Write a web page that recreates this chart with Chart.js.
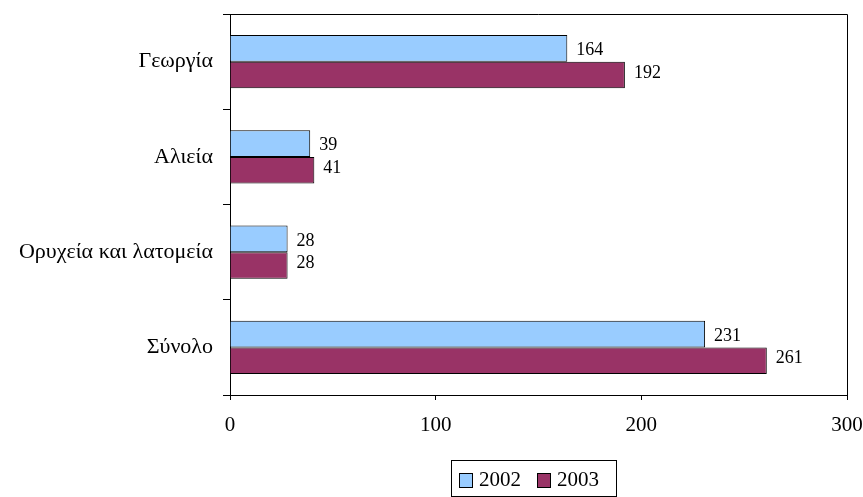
<!DOCTYPE html>
<html>
<head>
<meta charset="utf-8">
<script src="https://cdn.jsdelivr.net/npm/chart.js@4.4.0/dist/chart.umd.min.js"></script>
<style>
  html, body { margin: 0; padding: 0; background: #fff; }
  #wrap { width: 863px; height: 497px; }
</style>
</head>
<body>
<div id="wrap"><canvas id="c" width="863" height="497"></canvas></div>
<script>
// data
const categories = ['Γεωργία', 'Αλιεία', 'Ορυχεία και λατομεία', 'Σύνολο'];
const values2002 = [164, 39, 28, 231];
const values2003 = [192, 41, 28, 261];
const seriesNames = ['2002', '2003'];
const xTicks = [0, 100, 200, 300];

const FONT = '"Liberation Serif", "Times New Roman", serif';

// value labels at bar ends
const valueLabels = {
  id: 'valueLabels',
  afterDatasetsDraw(chart) {
    const ctx = chart.ctx;
    ctx.save();
    ctx.font = '18px ' + FONT;
    ctx.fillStyle = '#000';
    ctx.textBaseline = 'middle';
    ctx.textAlign = 'left';
    chart.data.datasets.forEach((ds, i) => {
      chart.getDatasetMeta(i).data.forEach((bar, j) => {
        const dy = i === 0 ? 2 : -2;
        ctx.fillText(String(ds.data[j]), bar.x + 9, bar.y + dy);
      });
    });
    ctx.restore();
  }
};

// frame round plot area + boxed legend
const frameAndLegend = {
  id: 'frameAndLegend',
  afterDraw(chart) {
    const ctx = chart.ctx;
    const a = chart.chartArea;
    ctx.save();
    ctx.strokeStyle = '#000';
    ctx.lineWidth = 1;
    ctx.beginPath();
    ctx.moveTo(a.left, a.top + 0.5);
    ctx.lineTo(a.right + 0.5, a.top + 0.5);
    ctx.lineTo(a.right + 0.5, a.bottom);
    ctx.stroke();

    // legend
    const bx = 451, by = 460, bw = 165, bh = 36;
    ctx.strokeRect(bx + 0.5, by + 0.5, bw, bh);
    ctx.font = '21px ' + FONT;
    ctx.textBaseline = 'middle';
    let x = bx + 8;
    const cy = by + 20;
    chart.data.datasets.forEach((ds) => {
      ctx.fillStyle = ds.backgroundColor;
      ctx.fillRect(x, cy - 7, 13, 14);
      ctx.strokeRect(x + 0.5, cy - 7 + 0.5, 13, 14);
      ctx.fillStyle = '#000';
      ctx.fillText(ds.label, x + 20, cy);
      x += 78;
    });
    ctx.restore();
  }
};

new Chart(document.getElementById('c'), {
  type: 'bar',
  data: {
    labels: categories,
    datasets: [
      { label: seriesNames[0], data: values2002, backgroundColor: '#99CCFF',
        borderColor: '#000', borderWidth: 1 },
      { label: seriesNames[1], data: values2003, backgroundColor: '#993366',
        borderColor: '#000', borderWidth: 1 }
    ]
  },
  options: {
    indexAxis: 'y',
    responsive: false,
    animation: false,
    devicePixelRatio: 1,
    categoryPercentage: 0.56,
    barPercentage: 1.0,
    layout: { padding: { top: 14, right: 16, bottom: 0, left: 0 } },
    plugins: {
      legend: { display: false },
      tooltip: { enabled: false }
    },
    scales: {
      x: {
        min: 0, max: 300,
        afterBuildTicks(scale) { scale.ticks = xTicks.map(v => ({ value: v })); },
        afterFit(scale) { scale.height = 102; scale.paddingRight = 0; scale.paddingLeft = 0; },
        grid: { display: true, drawOnChartArea: false, drawTicks: true,
                tickLength: 5, color: '#000' },
        border: { display: true, color: '#000', width: 1 },
        ticks: { color: '#000', font: { family: FONT, size: 21 }, padding: 13,
                 maxRotation: 0 }
      },
      y: {
        afterFit(scale) { scale.width = 230; scale.paddingTop = 0; scale.paddingBottom = 0; },
        grid: { display: true, drawOnChartArea: false, drawTicks: true,
                tickLength: 7, color: '#000', offset: true },
        border: { display: true, color: '#000', width: 1 },
        ticks: { color: '#000', font: { family: FONT, size: 22 }, padding: 10 }
      }
    }
  },
  plugins: [valueLabels, frameAndLegend]
});
</script>
</body>
</html>
